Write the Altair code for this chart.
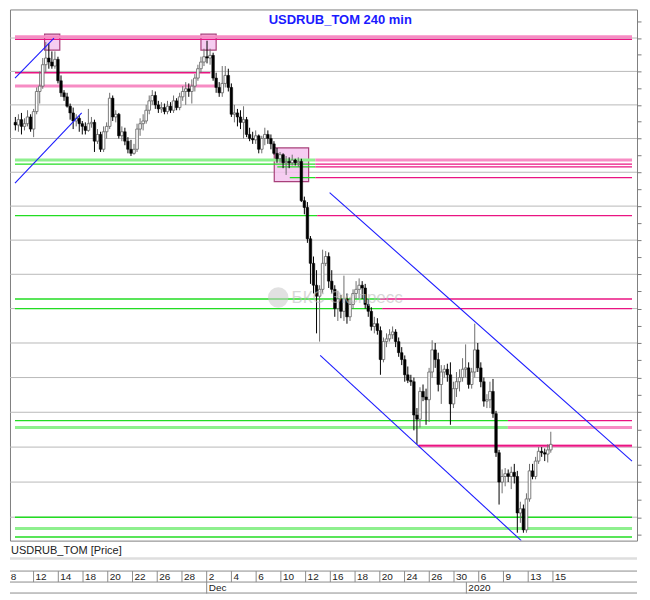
import altair as alt
import pandas as pd

# ---------------- data: USDRUB_TOM, 240-min bars (index 0 = first bar of 8 Nov) ----------------
OPEN = [63.87,63.85,63.89,63.84,63.86,63.91,63.82,63.95,64.10,64.14,64.30,64.35,64.32,64.29,64.34,64.18,64.09,64.06,63.99,63.94,
        63.88,63.90,63.86,63.84,63.81,63.86,63.87,63.73,63.78,63.67,63.80,63.84,64.05,63.91,63.93,63.77,63.80,63.73,63.67,63.64,
        63.67,63.82,63.86,63.88,63.96,64.03,64.07,64.00,63.97,63.98,63.95,63.99,63.96,64.03,63.98,64.06,64.10,64.12,64.10,64.14,
        64.20,64.27,64.32,64.36,64.35,64.37,64.20,64.13,64.09,64.16,64.22,64.13,63.93,63.94,63.91,63.87,63.89,63.78,63.75,63.74,
        63.77,63.67,63.75,63.78,63.75,63.71,63.64,63.60,63.63,63.57,63.58,63.57,63.59,63.57,63.58,63.29,63.24,63.01,62.83,62.67,
        62.59,62.64,62.83,62.88,62.70,62.64,62.50,62.57,62.48,62.57,62.44,62.53,62.61,62.64,62.67,62.65,62.53,62.48,62.37,62.39,
        62.34,62.13,62.26,62.28,62.31,62.33,62.26,62.18,62.13,62.02,61.98,61.97,61.73,61.70,61.90,61.86,61.84,62.04,62.20,62.13,
        61.95,62.04,62.06,62.02,61.81,61.92,61.97,62.00,62.06,62.07,61.95,62.04,62.20,62.07,61.97,61.83,61.84,61.90,61.74,61.46,
        61.25,61.29,61.31,61.29,61.32,61.29,61.03,61.06,60.91,61.13,61.33,61.29,61.40,61.47,61.46,61.45,61.48]
HIGH = [63.91,63.93,63.94,63.90,63.96,63.93,63.97,64.13,64.25,64.35,64.47,64.46,64.40,64.40,64.36,64.22,64.11,64.09,64.01,63.98,
        63.93,63.92,63.88,63.87,63.97,63.91,63.89,63.82,63.80,63.84,63.87,64.09,64.07,63.96,63.94,63.84,63.83,63.76,63.74,63.71,
        63.86,63.90,63.93,64.00,64.07,64.11,64.10,64.03,64.02,64.01,64.03,64.02,64.07,64.05,64.09,64.14,64.17,64.16,64.19,64.23,
        64.30,64.36,64.42,64.48,64.42,64.39,64.24,64.17,64.29,64.29,64.27,64.16,64.00,63.97,63.96,63.99,63.91,63.83,63.80,63.81,
        63.78,63.77,63.83,63.81,63.78,63.73,63.68,63.65,63.64,63.62,63.61,63.63,63.60,63.61,63.60,63.32,63.28,63.03,62.88,62.78,
        62.67,62.93,62.92,62.91,62.78,62.67,62.63,62.60,62.74,62.61,62.58,62.64,62.70,62.72,62.70,62.68,62.57,62.51,62.44,62.43,
        62.37,62.29,62.32,62.35,62.37,62.35,62.29,62.22,62.16,62.08,62.02,62.00,61.78,61.93,61.95,61.92,62.07,62.27,62.25,62.18,
        62.09,62.09,62.10,62.11,61.97,62.04,62.06,62.14,62.24,62.11,62.07,62.39,62.25,62.11,62.00,61.88,61.97,61.99,61.76,61.48,
        61.34,61.35,61.34,61.36,61.38,61.33,61.11,61.09,61.17,61.38,61.38,61.43,61.50,61.50,61.49,61.52,61.61]
LOW = [63.81,63.80,63.78,63.81,63.84,63.80,63.76,63.93,64.01,64.12,64.24,64.27,64.27,64.27,64.16,64.06,64.03,63.98,63.89,63.82,
       63.84,63.80,63.78,63.78,63.80,63.83,63.65,63.71,63.65,63.65,63.75,63.82,63.88,63.87,63.75,63.73,63.70,63.64,63.62,63.63,
       63.65,63.77,63.81,63.86,63.93,64.00,63.97,63.94,63.94,63.93,63.93,63.94,63.94,63.96,63.96,64.03,64.00,64.06,64.01,64.10,
       64.18,64.24,64.29,64.31,64.30,64.18,64.09,64.06,64.06,64.13,64.10,63.91,63.87,63.84,63.82,63.75,63.76,63.73,63.71,63.71,
       63.64,63.64,63.70,63.71,63.67,63.63,63.57,63.57,63.53,63.48,63.53,63.55,63.55,63.54,63.28,63.19,62.98,62.68,62.61,62.32,
       62.26,62.61,62.81,62.65,62.61,62.44,62.41,62.43,62.41,62.39,62.41,62.50,62.57,62.57,62.57,62.50,62.44,62.34,62.32,62.31,
       62.02,62.11,62.22,62.26,62.28,62.22,62.15,62.09,61.97,61.96,61.94,61.62,61.52,61.64,61.83,61.66,61.68,62.00,62.07,61.90,
       61.81,62.00,61.97,61.66,61.78,61.86,61.90,61.97,62.00,61.92,61.92,62.00,62.04,61.93,61.79,61.78,61.78,61.71,61.43,61.09,
       61.17,61.22,61.25,61.20,61.24,60.89,60.96,60.89,60.89,61.11,61.27,61.27,61.38,61.43,61.40,61.39,61.46]
CLOSE = [63.85,63.89,63.84,63.86,63.91,63.82,63.95,64.10,64.14,64.30,64.35,64.32,64.29,64.34,64.18,64.09,64.06,63.99,63.94,63.88,
         63.90,63.86,63.84,63.81,63.86,63.87,63.73,63.78,63.67,63.80,63.84,64.05,63.91,63.93,63.77,63.80,63.73,63.67,63.64,63.67,
         63.82,63.86,63.88,63.96,64.03,64.07,64.00,63.97,63.98,63.95,63.99,63.96,64.03,63.98,64.06,64.10,64.12,64.10,64.14,64.20,
         64.27,64.32,64.36,64.35,64.37,64.20,64.13,64.09,64.16,64.22,64.13,63.93,63.94,63.91,63.87,63.89,63.78,63.75,63.74,63.77,
         63.67,63.75,63.78,63.75,63.71,63.64,63.60,63.63,63.57,63.58,63.57,63.59,63.57,63.58,63.29,63.24,63.01,62.83,62.67,62.59,
         62.64,62.83,62.88,62.70,62.64,62.50,62.57,62.48,62.57,62.44,62.53,62.61,62.64,62.67,62.65,62.53,62.48,62.37,62.39,62.34,
         62.13,62.26,62.28,62.31,62.33,62.26,62.18,62.13,62.02,61.98,61.97,61.73,61.70,61.90,61.86,61.84,62.04,62.20,62.13,61.95,
         62.04,62.06,62.02,61.81,61.92,61.97,62.00,62.06,62.07,61.95,62.04,62.20,62.07,61.97,61.83,61.84,61.90,61.74,61.46,61.25,
         61.29,61.31,61.29,61.32,61.29,61.03,61.06,60.91,61.13,61.33,61.29,61.40,61.47,61.46,61.45,61.48,61.52]

# time axis: every label covers two trading days of four 240-min bars
DAY_LABELS = ["8", "12", "14", "18", "20", "22", "26", "28", "2", "4", "6", "10",
              "12", "16", "18", "20", "24", "26", "30", "6", "9", "13", "15"]
BARS_PER_LABEL = 8
MONTH_LABELS = ["Dec", "2020"]
MONTH_BARS = [64, 148]

# price grid (log scale) and axis ticks
GRID = [61.00, 61.25, 61.50, 61.75, 62.00, 62.25, 62.50, 62.75, 63.00, 63.25, 63.50, 63.75, 64.00, 64.25, 64.50]
TICKS = [60.875, 61.0, 61.125, 61.25, 61.375, 61.5, 61.625, 61.75, 61.875, 62.0, 62.125, 62.25, 62.375,
         62.5, 62.625, 62.75, 62.875, 63.0, 63.125, 63.25, 63.375, 63.5, 63.625, 63.75, 63.875, 64.0,
         64.125, 64.25, 64.375, 64.5, 64.625]

# horizontal levels: price, from bar, to bar, kind
LVL_PRICE = [64.51, 64.49, 64.24, 64.14, 63.59, 63.59, 63.56, 63.56, 63.54, 63.54, 63.46, 63.46, 63.18, 63.18,
             62.57, 62.57, 62.50, 62.50, 61.69, 61.69, 61.64, 61.64, 61.51, 61.51, 61.00, 60.92, 60.86]
LVL_FROM = [-0.125, -0.125, -0.125, -0.125, -0.125, 98.6, -0.125, 98.6, 86.1, 98.6, 90.2, 98.6, -0.125, 99.2,
            -0.125, 119.9, -0.125, 120.6, -0.125, 161.9, -0.125, 161.9, 132.5, 132.5, -0.125, -0.125, -0.125]
LVL_TO = [202.7, 202.7, 64.1, 66.0, 98.6, 202.7, 98.6, 202.7, 98.6, 202.7, 98.6, 202.7, 99.2, 202.7,
          119.9, 202.7, 120.6, 202.7, 161.9, 202.7, 161.9, 202.7, 202.7, 202.7, 202.7, 202.7, 202.7]
LVL_KIND = ["res_w", "res", "res", "res_w", "sup_w", "res_w", "sup", "res", "sup", "res", "sup", "res", "sup", "res",
            "sup", "res", "sup", "res", "sup", "res", "sup_w", "res_w", "res_w", "res", "sup", "sup_w", "sup"]

# trend channels: (bar, price) -> (bar, price)
CH_X1 = [-0.125, -0.125, 103.3, 100.2]
CH_P1 = [64.20, 63.42, 63.35, 62.16]
CH_X2 = [12.7, 21.8, 202.7, 166.3]
CH_P2 = [64.50, 63.94, 61.40, 60.834]

# highlighted zones
BOX_X1 = [9.6, 61.0, 85.1]
BOX_X2 = [14.6, 66.0, 96.4]
BOX_LO = [64.41, 64.41, 63.43]
BOX_HI = [64.53, 64.53, 63.68]

TITLE = "USDRUB_TOM 240 min"
PANEL_LABEL = "USDRUB_TOM [Price]"
WATERMARK = "БКС Экспресс"

# ---------------- styles ----------------
KIND_STYLE = {"res": ("#ea1482", 1.4), "res_w": ("#f78cc4", 3.0),
              "sup": ("#22dd22", 1.4), "sup_w": ("#8ef08e", 3.0)}
W, H = 628, 532
X_DOM = [-0.125, 202.7]
P_DOM = [60.834, 64.715]
FONT = "Liberation Sans"

xs = alt.Scale(domain=X_DOM, nice=False, zero=False)
ys = alt.Scale(type="log", domain=P_DOM, nice=False, zero=False)
Y_AX = alt.Axis(orient="right", values=TICKS, labels=False, grid=False, ticks=True, tickSize=4,
                tickColor="#7a7a7a", domain=False, title=None)


def X(f):
    return alt.X(f, type="quantitative", scale=xs, axis=None)


def Y(f):
    return alt.Y(f, type="quantitative", scale=ys, axis=Y_AX)


candles = pd.DataFrame({"i": list(range(len(OPEN))), "O": OPEN, "H": HIGH, "L": LOW, "C": CLOSE})
up = candles[candles.C >= candles.O]
dn = candles[candles.C < candles.O]

lv = pd.DataFrame({"p": LVL_PRICE, "x1": LVL_FROM, "x2": LVL_TO, "kind": LVL_KIND})
lv["c"] = [KIND_STYLE[k][0] for k in lv.kind]
lv["w"] = [KIND_STYLE[k][1] for k in lv.kind]
lv = lv.sort_values("w", ascending=False, kind="stable")

grid = alt.Chart(pd.DataFrame({"p": GRID})).mark_rule(color="#b9b9b9", strokeWidth=1).encode(y=Y("p"))

boxes = alt.Chart(pd.DataFrame({"x1": BOX_X1, "x2": BOX_X2, "lo": BOX_LO, "hi": BOX_HI})).mark_rect(
    fill="#f4c4ef", fillOpacity=0.85, stroke="#a8407a", strokeWidth=1.2
).encode(x=X("x1"), x2="x2:Q", y=Y("lo"), y2="hi:Q")

levels = alt.Chart(lv).mark_rule(clip=True).encode(
    x=X("x1"), x2="x2:Q", y=Y("p"),
    color=alt.Color("c:N", scale=None, legend=None),
    size=alt.Size("w:Q", scale=None, legend=None),
)

wick_up = alt.Chart(up).mark_rule(color="#6e6e6e", strokeWidth=1).encode(x=X("i"), y=Y("L"), y2="H:Q")
body_up = alt.Chart(up).mark_bar(width=2.6, fill="white", stroke="#6e6e6e", strokeWidth=0.9).encode(
    x=X("i"), y=Y("O"), y2="C:Q")
wick_dn = alt.Chart(dn).mark_rule(color="black", strokeWidth=1).encode(x=X("i"), y=Y("L"), y2="H:Q")
body_dn = alt.Chart(dn).mark_bar(width=2.6, fill="black", stroke="black", strokeWidth=0.5).encode(
    x=X("i"), y=Y("O"), y2="C:Q")

channels = alt.Chart(pd.DataFrame({"x1": CH_X1, "p1": CH_P1, "x2": CH_X2, "p2": CH_P2})).mark_rule(
    color="#1c1cff", strokeWidth=1.1, clip=True
).encode(x=X("x1"), y=Y("p1"), x2="x2:Q", y2="p2:Q")

wm_logo = alt.Chart(pd.DataFrame({"x": [86.4], "p": [62.58]})).mark_point(
    filled=True, shape="circle", size=420, color="#c8c8c8", opacity=0.55
).encode(x=X("x"), y=Y("p"))
wm_text = alt.Chart(pd.DataFrame({"x": [90.8], "p": [62.58], "t": [WATERMARK]})).mark_text(
    align="left", baseline="middle", font=FONT, fontSize=17, color="#bdbdbd", opacity=0.6
).encode(x=X("x"), y=Y("p"), text="t:N")

title = alt.Chart(pd.DataFrame({"x": [106.8], "p": [64.634], "t": [TITLE]})).mark_text(
    align="center", baseline="middle", font=FONT, fontSize=13, fontWeight="bold", color="#1a1aff"
).encode(x=X("x"), y=Y("p"), text="t:N")

main = alt.layer(
    grid, boxes, levels, wick_up, body_up, wick_dn, body_dn, channels, wm_logo, wm_text, title
).properties(width=W, height=H, view=alt.ViewBackground(stroke="#808080", strokeWidth=1))

# ---------------- bottom strip with time axis ----------------
seps = pd.DataFrame({"b": [BARS_PER_LABEL * k - 0.5 for k in range(len(DAY_LABELS))], "t": DAY_LABELS})
months = pd.DataFrame({"b": [b - 0.5 for b in MONTH_BARS], "t": MONTH_LABELS})
one = pd.DataFrame({"t": [PANEL_LABEL]})

strip_text = alt.Chart(one).mark_text(align="left", baseline="middle", font=FONT, fontSize=11, color="#222").encode(
    x=alt.value(1), y=alt.value(9), text="t:N")
band = alt.Chart(one).mark_rule(color="#dedede", strokeWidth=2.5).encode(
    x=alt.value(0), x2=alt.value(W), y=alt.value(17))
row_top = alt.Chart(one).mark_rule(color="#8c8c8c", strokeWidth=1).encode(
    x=alt.value(0), x2=alt.value(W), y=alt.value(29.5))
row_mid = alt.Chart(one).mark_rule(color="#8c8c8c", strokeWidth=1).encode(
    x=alt.value(0), x2=alt.value(W), y=alt.value(40.5))
row_bot = alt.Chart(one).mark_rule(color="#8c8c8c", strokeWidth=1).encode(
    x=alt.value(0), x2=alt.value(W), y=alt.value(51.5))
sep_rules = alt.Chart(seps).mark_rule(color="#8c8c8c", strokeWidth=1, clip=True).encode(
    x=X("b"), y=alt.value(29.5), y2=alt.value(40.5))
sep_text = alt.Chart(seps).mark_text(align="left", baseline="middle", dx=2, font=FONT, fontSize=10,
                                     color="#222").encode(x=X("b"), y=alt.value(35.5), text="t:N")
mon_rules = alt.Chart(months).mark_rule(color="#8c8c8c", strokeWidth=1).encode(
    x=X("b"), y=alt.value(40.5), y2=alt.value(52))
mon_text = alt.Chart(months).mark_text(align="left", baseline="middle", dx=2, font=FONT, fontSize=10,
                                       color="#222").encode(x=X("b"), y=alt.value(46.5), text="t:N")

bottom = alt.layer(
    band, row_top, row_mid, row_bot, sep_rules, mon_rules, strip_text, sep_text, mon_text
).properties(width=W, height=52, view=alt.ViewBackground(stroke=None))

chart = alt.vconcat(main, bottom, spacing=0).properties(padding=0).configure_view(stroke=None)

chart.save("out.html", embed_options={"renderer": "svg", "actions": False})
